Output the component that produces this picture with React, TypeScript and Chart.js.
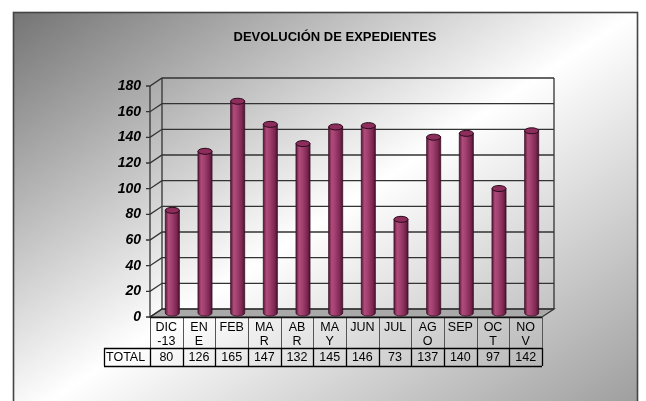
import React, { useEffect, useRef } from "react";
import { Chart, registerables } from "chart.js";
Chart.register(...registerables);

const TITLE = "DEVOLUCIÓN DE EXPEDIENTES";
const categories: string[][] = [
  ["DIC", "-13"], ["EN", "E"], ["FEB"], ["MA", "R"], ["AB", "R"], ["MA", "Y"],
  ["JUN"], ["JUL"], ["AG", "O"], ["SEP"], ["OC", "T"], ["NO", "V"],
];
const totals = [80, 126, 165, 147, 132, 145, 146, 73, 137, 140, 97, 142];
const rowLabel = "TOTAL";
const yMin = 0;
const yMax = 180;
const yStep = 20;

const FONT = "'Liberation Sans', Arial, sans-serif";
const DX = 12;
const DY = -8;

const decorPlugin = {
  id: "decor",
  beforeDraw(chart: any) {
    const ctx = chart.ctx as CanvasRenderingContext2D;
    ctx.save();
    ctx.fillStyle = "#ffffff";
    ctx.fillRect(0, 0, chart.width, chart.height);
    const x0 = 13, y0 = 12, x1 = 637, y1 = 425;
    const W = x1 - x0, H = y1 - y0;
    const len = Math.sqrt(W * W + H * H);
    const ux = H / len, uy = W / len;
    const L = (2 * W * H) / len;
    const cx = (x0 + x1) / 2, cy = (y0 + y1) / 2;
    const g = ctx.createLinearGradient(cx - (ux * L) / 2, cy - (uy * L) / 2, cx + (ux * L) / 2, cy + (uy * L) / 2);
    g.addColorStop(0, "#747474");
    g.addColorStop(0.5, "#ffffff");
    g.addColorStop(1, "#999999");
    ctx.fillStyle = g;
    ctx.fillRect(x0, y0, W, H);
    ctx.strokeStyle = "#444";
    ctx.lineWidth = 1.6;
    ctx.strokeRect(x0 + 0.5, y0 + 0.5, W, H);
    // title
    ctx.fillStyle = "#000";
    ctx.font = `bold 13px ${FONT}`;
    ctx.textAlign = "center";
    ctx.textBaseline = "middle";
    ctx.fillText(TITLE, 335, 37);
    ctx.restore();
  },
  beforeDatasetsDraw(chart: any) {
    const ctx = chart.ctx as CanvasRenderingContext2D;
    const ys = chart.scales.y;
    const { left, right } = chart.chartArea;
    const top = ys.getPixelForValue(yMax);
    const bottom = ys.getPixelForValue(yMin);
    ctx.save();
    // floor
    ctx.beginPath();
    ctx.moveTo(left, bottom);
    ctx.lineTo(right, bottom);
    ctx.lineTo(right + DX, bottom + DY);
    ctx.lineTo(left + DX, bottom + DY);
    ctx.closePath();
    ctx.fillStyle = "#a9a9a9";
    ctx.fill();
    ctx.strokeStyle = "#333";
    ctx.lineWidth = 1.2;
    ctx.stroke();
    // grid lines
    ctx.strokeStyle = "#333";
    ctx.lineWidth = 1.3;
    ys.ticks.forEach((t: any) => {
      const py = ys.getPixelForValue(t.value);
      ctx.beginPath();
      ctx.moveTo(left - 4, py);
      ctx.lineTo(left, py);
      ctx.lineTo(left + DX, py + DY);
      ctx.lineTo(right + DX, py + DY);
      ctx.stroke();
    });
    // wall edges
    ctx.beginPath();
    ctx.moveTo(left, top);
    ctx.lineTo(left, bottom);
    ctx.moveTo(left + DX, top + DY);
    ctx.lineTo(left + DX, bottom + DY);
    ctx.moveTo(right + DX, top + DY);
    ctx.lineTo(right + DX, bottom + DY);
    ctx.stroke();
    ctx.restore();
  },
  afterDatasetsDraw(chart: any) {
    const ctx = chart.ctx as CanvasRenderingContext2D;
    const meta = chart.getDatasetMeta(0);
    ctx.save();
    meta.data.forEach((bar: any) => {
      const cx = bar.x + DX / 2;
      const topY = bar.y + DY / 2;
      const botY = bar.base + DY / 2;
      const rx = bar.width / 2;
      const ry = 3;
      const g = ctx.createLinearGradient(cx - rx, 0, cx + rx, 0);
      g.addColorStop(0, "#5a1838");
      g.addColorStop(0.22, "#b04c7c");
      g.addColorStop(0.45, "#a2406f");
      g.addColorStop(0.8, "#7c2751");
      g.addColorStop(1, "#4c1330");
      ctx.beginPath();
      ctx.moveTo(cx - rx, topY);
      ctx.lineTo(cx - rx, botY);
      ctx.ellipse(cx, botY, rx, ry, 0, Math.PI, 0, true);
      ctx.lineTo(cx + rx, topY);
      ctx.closePath();
      ctx.fillStyle = g;
      ctx.fill();
      ctx.strokeStyle = "#3a0f25";
      ctx.lineWidth = 0.8;
      ctx.stroke();
      ctx.beginPath();
      ctx.ellipse(cx, topY, rx, ry, 0, 0, Math.PI * 2);
      ctx.fillStyle = "#8d2d5c";
      ctx.fill();
      ctx.strokeStyle = "#2a0a1a";
      ctx.lineWidth = 1;
      ctx.stroke();
    });
    ctx.restore();
  },
  afterDraw(chart: any) {
    const ctx = chart.ctx as CanvasRenderingContext2D;
    const xs = chart.scales.x;
    const ys = chart.scales.y;
    const { left, right } = chart.chartArea;
    const bottom = ys.getPixelForValue(yMin);
    const n = categories.length;
    const cw = (right - left) / n;
    const r1 = bottom, r2 = bottom + 31, r3 = bottom + 49;
    const labelLeft = 104;
    ctx.save();
    // category row
    ctx.strokeStyle = "#555";
    ctx.lineWidth = 1;
    for (let i = 0; i <= n; i++) {
      const px = Math.round(left + i * cw) + 0.5;
      ctx.beginPath();
      ctx.moveTo(px, r1);
      ctx.lineTo(px, r2);
      ctx.stroke();
    }
    ctx.strokeStyle = "#111";
    ctx.lineWidth = 1.4;
    ctx.beginPath();
    ctx.moveTo(left, r1 + 0.5);
    ctx.lineTo(right, r1 + 0.5);
    ctx.stroke();
    // value row
    ctx.strokeStyle = "#000";
    ctx.lineWidth = 1.3;
    ctx.beginPath();
    ctx.moveTo(labelLeft, r2 + 0.5);
    ctx.lineTo(right, r2 + 0.5);
    ctx.moveTo(labelLeft, r3 + 0.5);
    ctx.lineTo(right, r3 + 0.5);
    ctx.moveTo(labelLeft + 0.5, r2);
    ctx.lineTo(labelLeft + 0.5, r3);
    for (let i = 0; i <= n; i++) {
      const px = Math.round(left + i * cw) + 0.5;
      ctx.moveTo(px, r2);
      ctx.lineTo(px, r3);
    }
    ctx.stroke();
    // texts
    ctx.fillStyle = "#000";
    ctx.font = `12.5px ${FONT}`;
    ctx.textBaseline = "middle";
    ctx.textAlign = "center";
    categories.forEach((lines, i) => {
      const px = xs.getPixelForValue(i);
      lines.forEach((ln, j) => {
        ctx.fillText(ln, px, r1 + 11 + j * 14);
      });
      ctx.fillText(String(totals[i]), px, (r2 + r3) / 2 + 1);
    });
    ctx.textAlign = "left";
    ctx.fillText(rowLabel, labelLeft + 2, (r2 + r3) / 2 + 1);
    ctx.restore();
  },
};

export default function App() {
  const ref = useRef<HTMLCanvasElement | null>(null);
  useEffect(() => {
    if (!ref.current) return;
    const chart = new Chart(ref.current, {
      type: "bar",
      data: {
        labels: categories.map((c) => c.join("")),
        datasets: [
          {
            data: totals,
            backgroundColor: "rgba(0,0,0,0)",
            borderWidth: 0,
            categoryPercentage: 1,
            barPercentage: 0.43,
          },
        ],
      },
      options: {
        animation: false,
        responsive: false,
        maintainAspectRatio: false,
        layout: { padding: { left: 90, right: 104, top: 86, bottom: 84 } },
        plugins: {
          legend: { display: false },
          tooltip: { enabled: false },
          title: { display: false },
        },
        scales: {
          x: { display: false, offset: true, grid: { display: false } },
          y: {
            min: yMin,
            max: yMax,
            ticks: {
              stepSize: yStep,
              padding: 9,
              color: "#000",
              font: { family: FONT, size: 14, style: "italic", weight: "bold" },
            },
            grid: { display: false, drawTicks: false },
            border: { display: false },
            afterFit: (s: any) => {
              s.width = 60;
            },
          },
        },
      },
      plugins: [decorPlugin],
    });
    return () => chart.destroy();
  }, []);
  return (
    <div style={{ position: "fixed", left: 0, top: 0, width: 646, height: 401, overflow: "hidden" }}>
      <canvas ref={ref} width={646} height={401} style={{ display: "block" }} />
    </div>
  );
}
